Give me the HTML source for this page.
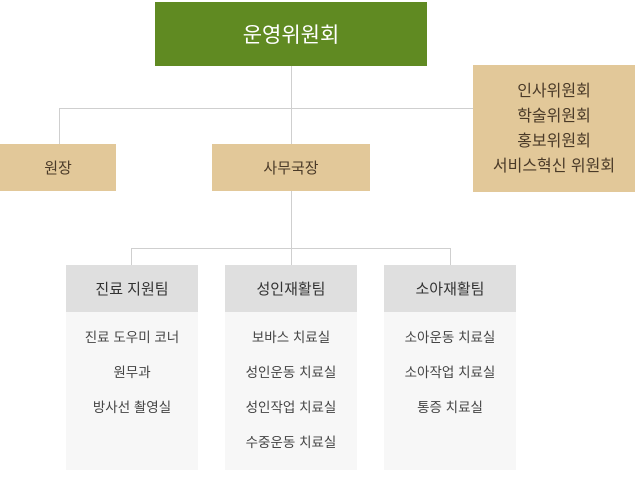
<!DOCTYPE html>
<html><head><meta charset="utf-8"><style>
body{margin:0;width:635px;height:490px;background:#fff;position:relative;overflow:hidden;font-family:"Liberation Sans","Noto Sans CJK KR",sans-serif;}
.b{position:absolute;display:flex;align-items:center;justify-content:center;text-align:center;}
.l{position:absolute;background:#cfcfcf;}
.tan{background:#e2c899;color:#4a3a28;font-size:15px;}
.hd{background:#dfdfdf;color:#333;font-size:15px;}
.bd{position:absolute;background:#f7f7f7;color:#444;font-size:13.5px;text-align:center;}
.bd div{position:absolute;left:0;right:0;height:20px;line-height:20px;}
</style></head><body>
<div class="l" style="left:291px;top:65px;width:1px;height:80px"></div>
<div class="l" style="left:59px;top:108px;width:414px;height:1px"></div>
<div class="l" style="left:59px;top:108px;width:1px;height:36px"></div>
<div class="l" style="left:291px;top:191px;width:1px;height:74px"></div>
<div class="l" style="left:131px;top:248px;width:320px;height:1px"></div>
<div class="l" style="left:131px;top:248px;width:1px;height:17px"></div>
<div class="l" style="left:450px;top:248px;width:1px;height:17px"></div>

<div class="b" style="left:155px;top:2px;width:272px;height:64px;background:#608a22;color:#fff;font-size:21px;">운영위원회</div>
<div class="b tan" style="left:0;top:144px;width:116px;height:47px">원장</div>
<div class="b tan" style="left:212px;top:144px;width:158px;height:47px">사무국장</div>
<div class="b tan" style="left:473px;top:65px;width:162px;height:127px;line-height:25px;font-size:16px">인사위원회<br>학술위원회<br>홍보위원회<br>서비스혁신 위원회</div>

<div class="b hd" style="left:66px;top:265px;width:132px;height:47px">진료 지원팀</div>
<div class="b hd" style="left:225px;top:265px;width:132px;height:47px">성인재활팀</div>
<div class="b hd" style="left:384px;top:265px;width:132px;height:47px">소아재활팀</div>

<div class="bd" style="left:66px;top:312px;width:132px;height:158px">
<div style="top:16px">진료 도우미 코너</div><div style="top:51px">원무과</div><div style="top:86px">방사선 촬영실</div></div>
<div class="bd" style="left:225px;top:312px;width:132px;height:158px">
<div style="top:16px">보바스 치료실</div><div style="top:51px">성인운동 치료실</div><div style="top:86px">성인작업 치료실</div><div style="top:121px">수중운동 치료실</div></div>
<div class="bd" style="left:384px;top:312px;width:132px;height:158px">
<div style="top:16px">소아운동 치료실</div><div style="top:51px">소아작업 치료실</div><div style="top:86px">통증 치료실</div></div>
</body></html>
